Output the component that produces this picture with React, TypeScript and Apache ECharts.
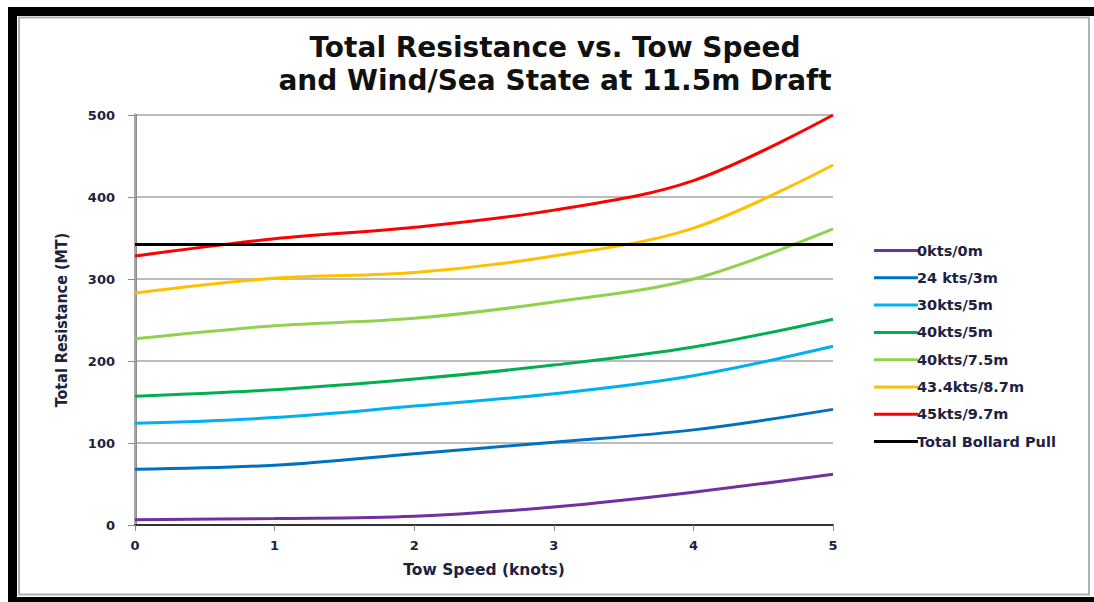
import React, { useEffect, useRef } from "react";
import * as echarts from "echarts";

const speeds = [0, 1, 2, 3, 4, 5];
const seriesNames = [
  "0kts/0m",
  "24 kts/3m",
  "30kts/5m",
  "40kts/5m",
  "40kts/7.5m",
  "43.4kts/8.7m",
  "45kts/9.7m",
  "Total Bollard Pull",
];
const calm = [6.5, 7.8, 10.6, 22, 40, 62];
const w24 = [68, 73, 87, 101, 116, 141];
const w30 = [124, 131, 145, 160, 182, 218];
const w40a = [157, 165, 178, 195, 217, 251];
const w40b = [227, 243, 252, 272, 300, 361];
const w43 = [283, 301, 308, 328, 362, 439];
const w45 = [328, 349, 363, 384, 420, 500];
const bollardSpeeds = [0, 5];
const bollard = [342, 342];
const colors = ["#7030A0", "#0070C0", "#00B0F0", "#00B050", "#92D050", "#FFC000", "#FF0000", "#000000"];
const yTicks = [0, 100, 200, 300, 400, 500];

const textColor = "#1d2240";

export default function App() {
  const ref = useRef<HTMLDivElement>(null);
  useEffect(() => {
    document.body.style.margin = "0";
    const chart = echarts.init(ref.current!, null, { renderer: "svg" });
    const curves = [calm, w24, w30, w40a, w40b, w43, w45];
    const series: any[] = curves.map((vals, i) => ({
      name: seriesNames[i],
      type: "line",
      data: speeds.map((s, j) => [s, vals[j]]),
      smooth: 0.35,
      symbol: "none",
      lineStyle: { width: 3, color: colors[i] },
      itemStyle: { color: colors[i] },
    }));
    series.push({
      name: seriesNames[7],
      type: "line",
      data: bollardSpeeds.map((s, j) => [s, bollard[j]]),
      symbol: "none",
      lineStyle: { width: 3, color: colors[7] },
      itemStyle: { color: colors[7] },
    });
    chart.setOption({
      animation: false,
      backgroundColor: "#ffffff",
      grid: { left: 135, right: 261, top: 115, bottom: 77, containLabel: false },
      xAxis: [
        {
          type: "value",
          min: 0,
          max: 5,
          interval: 1,
          name: "Tow Speed (knots)",
          nameLocation: "middle",
          nameGap: 37,
          nameTextStyle: { fontFamily: "DejaVu Sans", fontWeight: "bold", fontSize: 15.5, color: textColor },
          axisLine: { show: true, lineStyle: { color: "#8c8c8c", width: 2 } },
          axisTick: { show: true, length: 6, lineStyle: { color: "#8c8c8c", width: 1 } },
          axisLabel: { margin: 14, fontFamily: "DejaVu Sans", fontWeight: "bold", fontSize: 13, color: textColor },
          splitLine: { show: false },
        },
        {
          type: "value",
          position: "top",
          min: 0,
          max: 5,
          interval: 1,
          axisLine: { show: true, lineStyle: { color: "#333333", width: 2 } },
          axisTick: { show: false },
          axisLabel: { show: false },
          splitLine: { show: false },
        },
      ],
      yAxis: [
        {
          type: "value",
          min: yTicks[0],
          max: yTicks[yTicks.length - 1],
          interval: 100,
          name: "Total Resistance (MT)",
          nameLocation: "middle",
          nameGap: 66,
          nameTextStyle: { fontFamily: "DejaVu Sans Condensed", fontWeight: "bold", fontSize: 16, color: textColor },
          axisLine: { show: true, lineStyle: { color: "#8c8c8c", width: 3 } },
          axisTick: { show: true, length: 7, lineStyle: { color: "#8c8c8c", width: 1 } },
          axisLabel: { margin: 20, fontFamily: "DejaVu Sans", fontWeight: "bold", fontSize: 13, color: textColor },
          splitLine: { show: true, lineStyle: { color: "#a6a6a6", width: 1.5 } },
        },
        {
          type: "value",
          position: "right",
          min: 0,
          max: 500,
          interval: 100,
          axisLine: { show: true, lineStyle: { color: "#a6a6a6", width: 2 } },
          axisTick: { show: false },
          axisLabel: { show: false },
          splitLine: { show: false },
        },
      ],
      legend: {
        orient: "vertical",
        left: 869,
        top: 238,
        icon: "rect",
        itemWidth: 44,
        itemHeight: 3,
        itemGap: 12.3,
        data: seriesNames,
        textStyle: {
          fontFamily: "DejaVu Sans",
          fontWeight: "bold",
          fontSize: 14.5,
          lineHeight: 15,
          color: textColor,
          padding: [0, 0, 0, -6],
        },
      },
      graphic: [
        { type: "rect", shape: { x: 8, y: 7, width: 1086, height: 9 }, style: { fill: "#000" } },
        { type: "rect", shape: { x: 8, y: 7, width: 9, height: 595 }, style: { fill: "#000" } },
        { type: "rect", shape: { x: 8, y: 597, width: 1086, height: 5 }, style: { fill: "#000" } },
        { type: "rect", shape: { x: 19, y: 17.5, width: 1070, height: 577 }, style: { fill: "none", stroke: "#b0b0b0", lineWidth: 2 } },
        {
          type: "text",
          x: 555,
          y: 47,
          style: {
            text: "Total Resistance vs. Tow Speed",
            fontFamily: "DejaVu Sans",
            fontWeight: "bold",
            fontSize: 28,
            fill: "#111",
            textAlign: "center",
            textVerticalAlign: "middle",
          },
        },
        {
          type: "text",
          x: 555,
          y: 80,
          style: {
            text: "and Wind/Sea State at 11.5m Draft",
            fontFamily: "DejaVu Sans",
            fontWeight: "bold",
            fontSize: 28,
            fill: "#111",
            textAlign: "center",
            textVerticalAlign: "middle",
          },
        },
      ],
      series,
    });
    return () => chart.dispose();
  }, []);
  return <div ref={ref} style={{ width: 1094, height: 602 }} />;
}
